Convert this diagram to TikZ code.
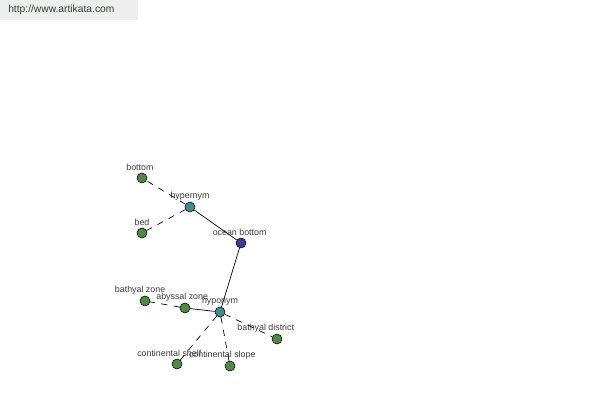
\documentclass[tikz,border=0pt]{standalone}
\usepackage{fontspec}
\setmainfont{Liberation Sans}
\tikzset{
  leaf/.style={circle, draw, fill=leafgreen, minimum size=10*0.025cm, inner sep=0pt},
  relnode/.style={circle, draw, fill=relteal, minimum size=10*0.025cm, inner sep=0pt},
  rootnode/.style={circle, draw, fill=rootblue, minimum size=10*0.025cm, inner sep=0pt},
  lbl/.style={font=\fontsize{6.3pt}{7pt}\selectfont, text=textgray, inner sep=0pt},
  link/.style={line width=0.5pt},
  dlink/.style={line width=0.5pt, dash pattern=on 4.5pt off 4.5pt}
}
\definecolor{leafgreen}{RGB}{80,138,68}
\definecolor{relteal}{RGB}{64,140,140}
\definecolor{rootblue}{RGB}{60,60,150}
\definecolor{textgray}{RGB}{60,60,60}
\definecolor{bargray}{RGB}{238,238,238}
\definecolor{urlgray}{RGB}{50,62,50}
\begin{document}
\begin{tikzpicture}[x=0.025cm, y=-0.025cm, every label/.style={lbl}, label distance=1pt]
  \useasboundingbox (0,0) rectangle (600,400);
  % Header
  \fill[bargray] (0,0) rectangle (138,20);
  \node (url) [anchor=west, font=\fontsize{7.3pt}{8pt}\selectfont, text=urlgray, inner sep=0pt] at (8,10) {http://www.artikata.com};
  % Nodes
  \node (ocean) [rootnode, label={[xshift=-1pt]above:ocean bottom}] at (241,243) {};
  \node (hyper) [relnode, label={above:hypernym}] at (190,207) {};
  \node (hypo) [relnode, label={above:hyponym}] at (220,312) {};
  \node (bottom) [leaf, label={[xshift=-1.5pt]above:bottom}] at (142,178) {};
  \node (bed) [leaf, label={above:bed}] at (142,233) {};
  \node (abyssal) [leaf, label={[xshift=-2pt]above:abyssal zone}] at (185,308) {};
  \node (bathzone) [leaf, label={[xshift=-3.5pt]above:bathyal zone}] at (145,301) {};
  \node (bathdist) [leaf, label={[xshift=-8pt]above:bathyal district}] at (277,339) {};
  \node (shelf) [leaf, label={[xshift=-5.5pt]above:continental shelf}] at (177,364) {};
  \node (slope) [leaf, label={[xshift=-5.5pt]above:continental slope}] at (230,366) {};
  % Arrows
  \draw[link] (hyper) -- (ocean);
  \draw[link] (ocean) -- (hypo);
  \draw[link] (abyssal) -- (hypo);
  \draw[dlink] (hyper) -- (bottom);
  \draw[dlink] (hyper) -- (bed);
  \draw[dlink] (abyssal) -- (bathzone);
  \draw[dlink] (hypo) -- (bathdist);
  \draw[dlink] (hypo) -- (shelf);
  \draw[dlink] (hypo) -- (slope);
\end{tikzpicture}
\end{document}
